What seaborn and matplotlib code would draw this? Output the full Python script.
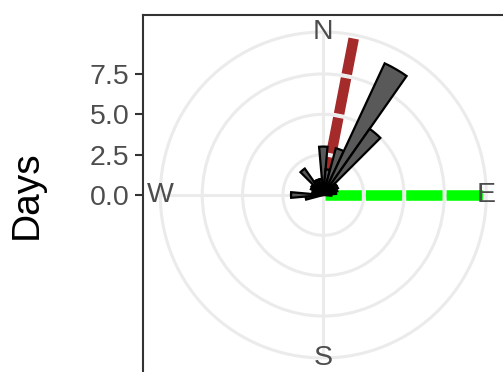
import numpy as np
import matplotlib
matplotlib.use("Agg")
import matplotlib.pyplot as plt
import seaborn as sns

# wind rose bins (degrees, clockwise from north) and days per bin
directions = [0, 10, 20, 30, 40, 50, 60, 70, 80, 90,
              100, 110, 120, 130, 140, 150, 160, 170, 180, 190,
              200, 210, 220, 230, 240, 250, 260, 270, 280, 290,
              300, 310, 320, 330, 340, 350]
days = [3.0, 1.6, 3.0, 9.0, 5.0, 1.0, 1.0, 0.9, 0.8, 0.5,
        0, 0, 0, 0, 0, 0, 0, 0, 0, 0,
        0, 0, 0, 0, 0, 0, 1.1, 2.0, 0.5, 0.7,
        0.85, 0.9, 2.0, 1.0, 1.0, 1.0]

# reference directions drawn as dashed spokes
spoke_dirs = [11, 90]
spoke_len = [10, 10]
spoke_colors = ["#A52A2A", "#00FF00"]

compass = ["N", "E", "S", "W"]
compass_deg = [0, 90, 180, 270]
r_ticks = [0, 2.5, 5, 7.5]
r_labels = ["0.0", "2.5", "5.0", "7.5"]

sns.set_theme(style="white")
plt.rcParams["font.family"] = ["Liberation Sans", "DejaVu Sans"]
plt.rcParams["lines.scale_dashes"] = False

W, H = 503, 372
fig = plt.figure(figsize=(W / 100, H / 100), dpi=100)
fig.patch.set_facecolor("white")

cx, cy = 323.3, 195.0      # centre of the rose in pixels (from top-left)
rmax = 10.1
R = 163.0                  # pixel radius of rmax
px_per_unit = R / rmax

# polar panel
ax = fig.add_axes([(cx - R) / W, 1 - (cy + R) / H, 2 * R / W, 2 * R / H],
                  projection="polar")
ax.set_theta_zero_location("N")
ax.set_theta_direction(-1)
ax.set_ylim(0, rmax)
ax.set_facecolor("white")
grid_col = "#EBEBEB"
ax.set_rgrids([2.5, 5, 7.5], labels=[])
ax.set_xticks(np.deg2rad(compass_deg))
ax.set_xticklabels([])
ax.grid(True, color=grid_col, linewidth=2.2)
ax.spines["polar"].set_color(grid_col)
ax.spines["polar"].set_linewidth(2.2)
ax.tick_params(length=0)

# dashed spokes, gaps falling on the grid circles
period = 2.5 * px_per_unit * 0.72
gap = 2.9
for d, L, c in zip(spoke_dirs, spoke_len, spoke_colors):
    th = np.deg2rad(d)
    ax.plot([th, th], [0, L], color=c, linewidth=7.6,
            linestyle=(period - gap / 2, (period - gap, gap)),
            dash_capstyle="butt", zorder=2)

ax.bar(np.deg2rad(directions), days, width=np.deg2rad(10), bottom=0,
       color="#595959", edgecolor="black", linewidth=1.6, zorder=3)

for lab, d in zip(compass, compass_deg):
    ax.text(np.deg2rad(d), rmax, lab, ha="center", va="center",
            fontsize=20.5, color="#4D4D4D", zorder=4)

# cartesian frame carrying the radius axis (ggplot style)
top, left = 15.0, 143.0
half = cy - top
ax2 = fig.add_axes([left / W, 1 - (cy + half) / H, 380 / W, 2 * half / H])
ax2.patch.set_alpha(0)
ax2.set_xlim(0, 1)
ax2.set_ylim(-half / px_per_unit, half / px_per_unit)
ax2.set_xticks([])
ax2.set_yticks(r_ticks)
ax2.set_yticklabels(r_labels)
ax2.tick_params(axis="y", left=True, length=5.8, width=1.5, color="#333333",
                labelsize=20.5, labelcolor="#4D4D4D", pad=4)
for s in ["left", "top"]:
    ax2.spines[s].set_color("#333333")
    ax2.spines[s].set_linewidth(1.5)
for s in ["right", "bottom"]:
    ax2.spines[s].set_visible(False)
ax2.set_ylabel("Days", fontsize=28, color="black", labelpad=32)

fig.savefig("out.png", dpi=100)
